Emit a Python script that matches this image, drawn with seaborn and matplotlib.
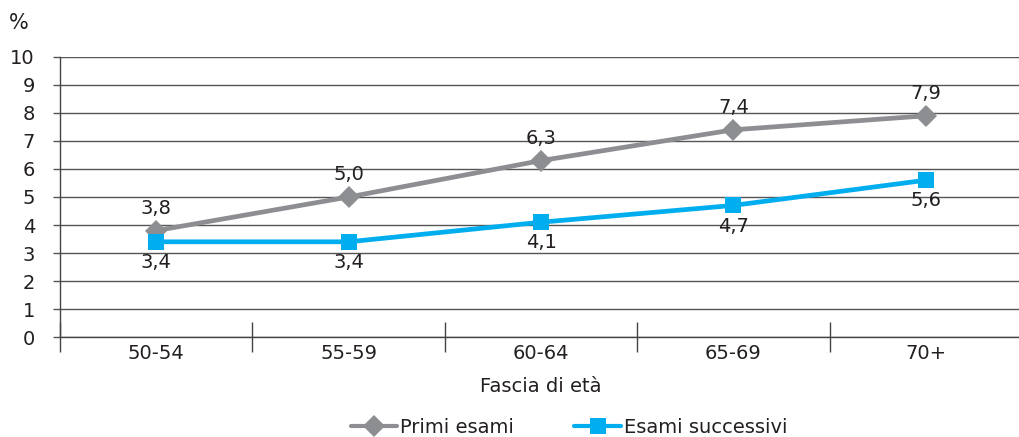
import matplotlib
matplotlib.use("Agg")
import matplotlib.pyplot as plt
import seaborn as sns
import pandas as pd
from matplotlib.lines import Line2D

sns.set_theme(style="white")
plt.rcParams["font.family"] = ["DejaVu Sans"]

categories = ["50-54", "55-59", "60-64", "65-69", "70+"]
primi_esami = [3.8, 5.0, 6.3, 7.4, 7.9]
esami_successivi = [3.4, 3.4, 4.1, 4.7, 5.6]
series_names = ["Primi esami", "Esami successivi"]

gray = "#8d8e92"
blue = "#00aeef"
text_color = "#231f20"
fs = 14

df = pd.DataFrame({
    "x": list(range(len(categories))) * 2,
    "value": primi_esami + esami_successivi,
    "serie": [series_names[0]] * len(categories) + [series_names[1]] * len(categories),
})

fig = plt.figure(figsize=(10.2, 4.37), dpi=100)
ax = fig.add_axes([0.0588, 0.2288, 0.9432, 0.6408])

sns.lineplot(data=df, x="x", y="value", hue="serie", style="serie",
             palette={series_names[0]: gray, series_names[1]: blue},
             markers={series_names[0]: "D", series_names[1]: "s"},
             dashes=False, linewidth=3.4, markersize=11, markeredgewidth=0,
             legend=False, ax=ax, zorder=3)

for i, v in enumerate(primi_esami):
    ax.annotate(f"{v:.1f}".replace(".", ","), (i, v), xytext=(0, 9),
                textcoords="offset points", ha="center", va="bottom",
                fontsize=fs, color=text_color)
for i, v in enumerate(esami_successivi):
    ax.annotate(f"{v:.1f}".replace(".", ","), (i, v), xytext=(0, -8),
                textcoords="offset points", ha="center", va="top",
                fontsize=fs, color=text_color)

ax.set_xlim(-0.5, len(categories) - 0.5)
ax.set_ylim(0, 10)
ax.set_yticks(range(0, 11))
ax.set_yticklabels([str(v) for v in range(0, 11)], fontsize=fs, color=text_color)
ax.grid(False)
ax.yaxis.grid(True, color="#555555", linewidth=1)
ax.set_axisbelow(True)

ax.set_xticks(range(len(categories)))
ax.set_xticklabels(categories, fontsize=fs, color=text_color)
ax.set_xticks([i - 0.5 for i in range(len(categories))], minor=True)
ax.tick_params(axis="x", which="major", bottom=True, length=0, pad=5)
ax.tick_params(axis="x", which="minor", bottom=True, length=22, width=1,
               color="#444444", direction="inout")
ax.tick_params(axis="y", left=True, length=5, width=1, color="#555555", pad=13)

for side in ["top", "right"]:
    ax.spines[side].set_visible(False)
for side in ["left", "bottom"]:
    ax.spines[side].set_color("#444444")
    ax.spines[side].set_linewidth(1)

ax.set_xlabel("Fascia di età", fontsize=fs, color=text_color, labelpad=10)
ax.set_ylabel("")
fig.text(0.009, 0.925, "%", fontsize=fs + 1, color=text_color, ha="left", va="bottom")

handles = [
    Line2D([0], [0], color=gray, linewidth=3, marker="D", markersize=11, markeredgewidth=0),
    Line2D([0], [0], color=blue, linewidth=3, marker="s", markersize=11, markeredgewidth=0),
]
fig.legend(handles, series_names, loc="lower center", bbox_to_anchor=(0.558, -0.04),
           ncol=2, frameon=False, fontsize=fs, handlelength=2.4, handletextpad=0.15,
           columnspacing=3.1, labelcolor=text_color)

fig.savefig("out.png", dpi=100)
